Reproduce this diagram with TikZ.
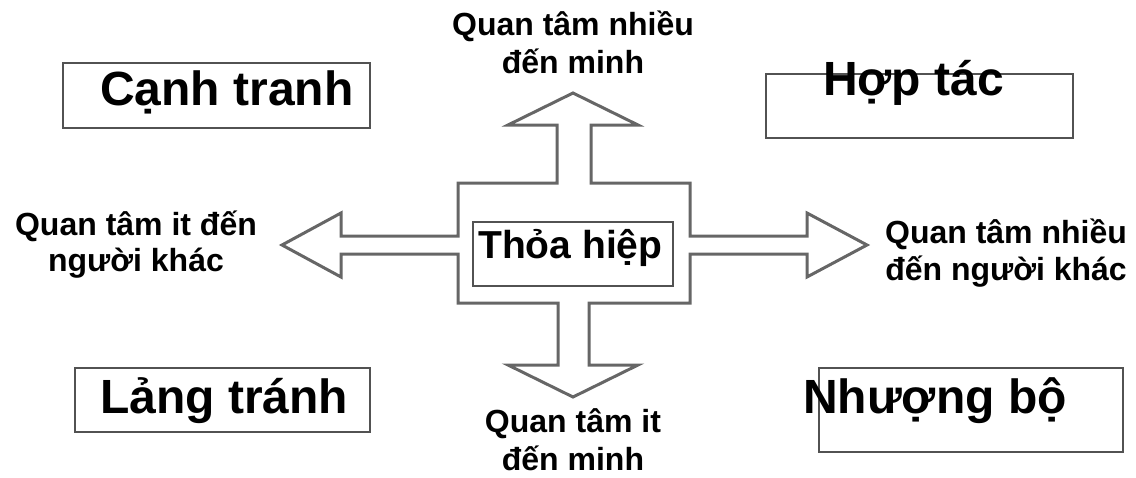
\documentclass[tikz,border=0pt]{standalone}
\usepackage{fontspec}
\setmainfont{Liberation Sans}
\begin{document}
\begin{tikzpicture}[x=1pt,y=-1pt,
  crossline/.style={draw=black!60, line width=3pt, line join=miter},
  boxline/.style={draw=black!68, line width=2.5pt, fill=none, inner sep=0pt},
  bigtext/.style={anchor=base west, inner sep=0pt, font=\fontsize{48}{56}\selectfont\bfseries},
  midtext/.style={anchor=base west, inner sep=0pt, font=\fontsize{39}{46}\selectfont\bfseries},
  lbl/.style={anchor=base, inner sep=0pt, font=\fontsize{32}{38}\selectfont\bfseries}]
\useasboundingbox (0,0) rectangle (1136,477);
% cross of four arrows
\draw[crossline] (573,93) -- (638,125) -- (591,125) -- (591,183) -- (690,183) -- (690,236)
  -- (807,236) -- (807,213) -- (867,245) -- (807,277) -- (807,254) -- (690,254)
  -- (690,303) -- (589,303) -- (589,365) -- (638,365) -- (573,397) -- (508,365)
  -- (558,365) -- (558,303) -- (458,303) -- (458,254) -- (341,254) -- (341,277)
  -- (282,245) -- (341,213) -- (341,236) -- (458,236) -- (458,183) -- (557,183)
  -- (557,125) -- (508,125) -- cycle;
% boxes
\node[boxline, minimum width=307pt, minimum height=65pt] (bCT) at (216.5,95.5) {};
\node[boxline, minimum width=307pt, minimum height=64pt] (bHT) at (919.5,106) {};
\node[boxline, minimum width=295pt, minimum height=64pt] (bLT) at (222.5,400) {};
\node[boxline, minimum width=304pt, minimum height=84pt] (bNB) at (971,410) {};
\node[boxline, minimum width=200pt, minimum height=64pt] (bTH) at (573,254) {};
% box texts
\node[bigtext] (tCT) at (100,105) {Cạnh tranh};
\node[bigtext] (tHT) at (823,95) {Hợp tác};
\node[bigtext] (tLT) at (100,413) {Lảng tránh};
\node[bigtext] (tNB) at (803,413) {Nhượng bộ};
\node[midtext] (tTH) at (478,258) {Thỏa hiệp};
% axis labels
\node[lbl] (up1) at (573,35) {Quan tâm nhiều};
\node[lbl] (up2) at (573,73) {đến minh};
\node[lbl] (lf1) at (136,235) {Quan tâm it đến};
\node[lbl] (lf2) at (136,271) {người khác};
\node[lbl] (rt1) at (1006,243) {Quan tâm nhiều};
\node[lbl] (rt2) at (1006,280) {đến người khác};
\node[lbl] (dn1) at (573,432) {Quan tâm it};
\node[lbl] (dn2) at (573,470) {đến minh};
\end{tikzpicture}
\end{document}
